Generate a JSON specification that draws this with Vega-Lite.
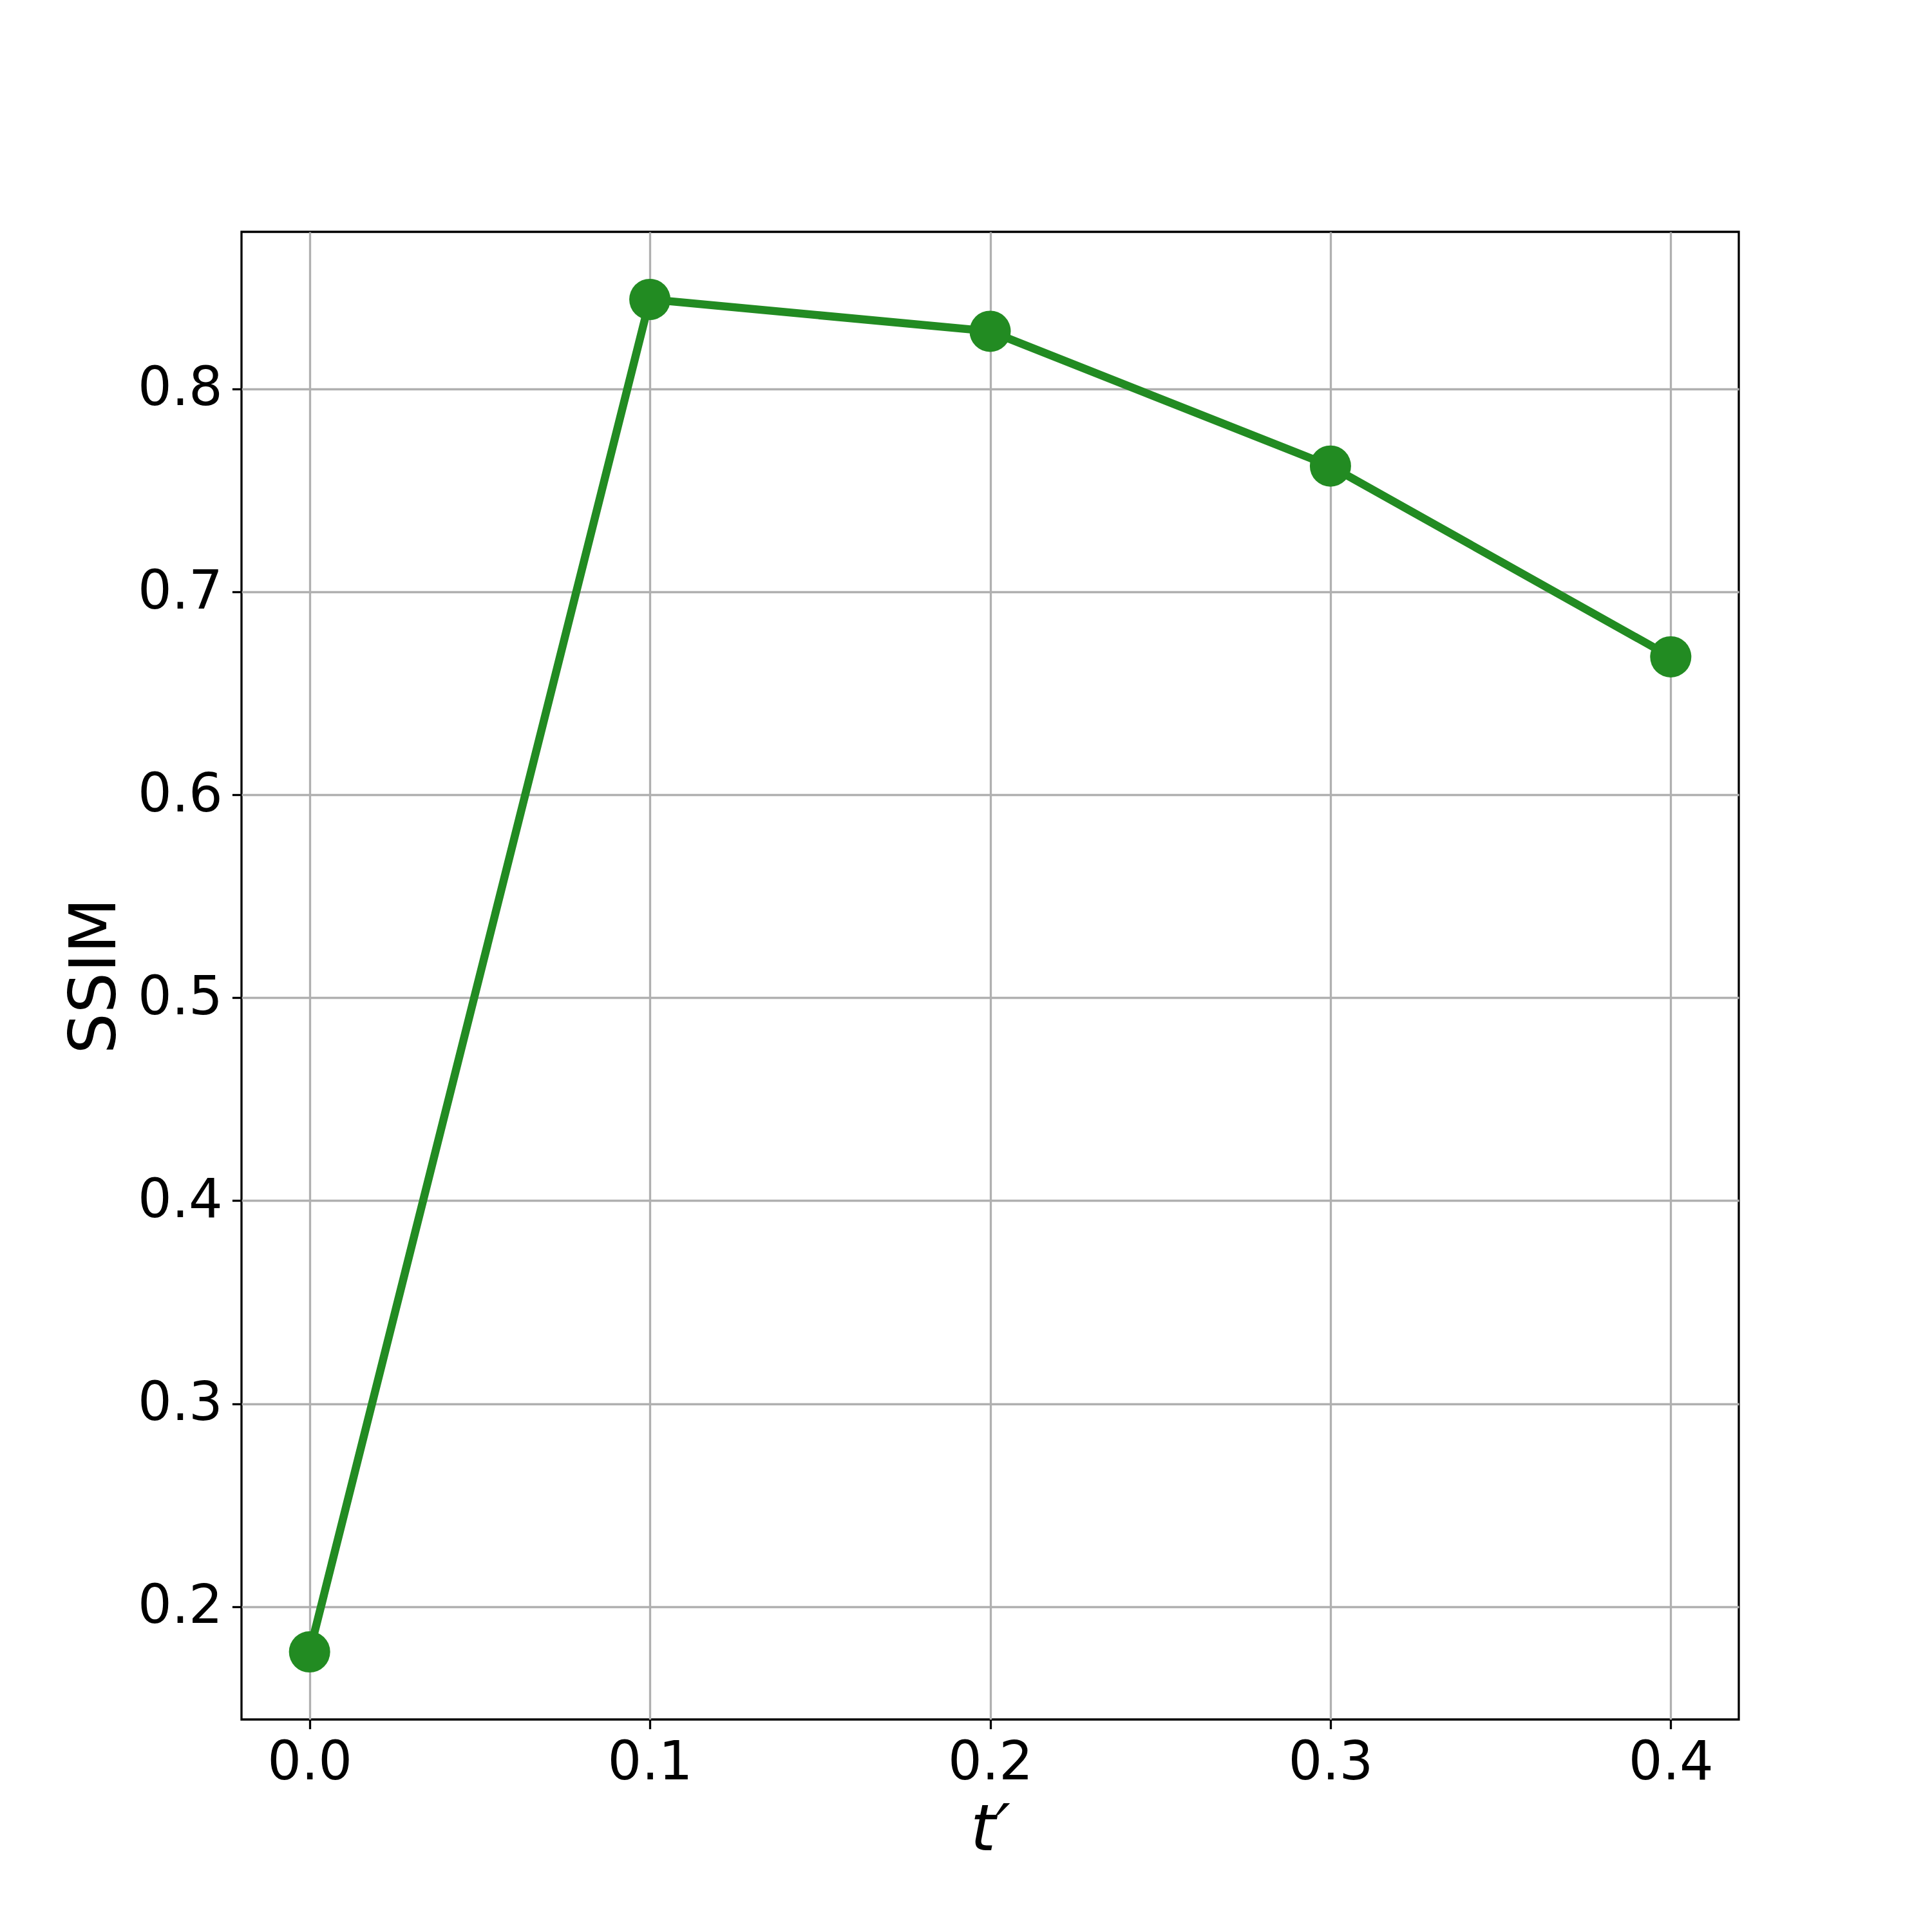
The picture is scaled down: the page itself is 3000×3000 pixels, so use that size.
{
  "$schema": "https://vega.github.io/schema/vega-lite/v6.json",
  "width": 2325,
  "height": 2310,
  "autosize": {"type": "none"},
  "padding": {"left": 375, "top": 360, "right": 300, "bottom": 330},
  "background": "white",
  "config": {
    "font": "DejaVu Sans",
    "view": {"stroke": "black", "strokeWidth": 3.3},
    "axis": {
      "domain": false,
      "grid": true,
      "gridColor": "#b0b0b0",
      "gridWidth": 3.3,
      "gridOpacity": 1,
      "tickColor": "black",
      "tickWidth": 3.3,
      "tickSize": 14.6,
      "labelFont": "DejaVu Sans",
      "labelFontSize": 83,
      "labelColor": "black",
      "titleFont": "DejaVu Sans",
      "titleFontSize": 100,
      "titleFontWeight": "normal",
      "titleColor": "black",
      "labelFlush": false,
      "labelOverlap": false
    }
  },
  "data": {
    "values": [
      {"t": 0.0, "ssim": 0.1777},
      {"t": 0.1, "ssim": 0.8441},
      {"t": 0.2, "ssim": 0.8284},
      {"t": 0.3, "ssim": 0.762},
      {"t": 0.4, "ssim": 0.668}
    ]
  },
  "encoding": {
    "x": {
      "field": "t",
      "type": "quantitative",
      "scale": {"domain": [-0.02, 0.42], "nice": false, "zero": false},
      "axis": {
        "title": "t′",
        "titleFontStyle": "italic",
        "values": [0, 0.1, 0.2, 0.3, 0.4],
        "format": ".1f",
        "labelPadding": 12,
        "titlePadding": 14
      }
    },
    "y": {
      "field": "ssim",
      "type": "quantitative",
      "scale": {"domain": [0.1444, 0.8774], "nice": false, "zero": false},
      "axis": {
        "title": "SSIM",
        "values": [0.2, 0.3, 0.4, 0.5, 0.6, 0.7, 0.8],
        "format": ".1f",
        "labelPadding": 15,
        "titlePadding": 14
      }
    }
  },
  "layer": [
    {"mark": {"type": "line", "color": "#228b22", "strokeWidth": 12.5}},
    {"mark": {"type": "point", "shape": "circle", "filled": true, "color": "#228b22", "opacity": 1, "size": 4100}}
  ]
}
